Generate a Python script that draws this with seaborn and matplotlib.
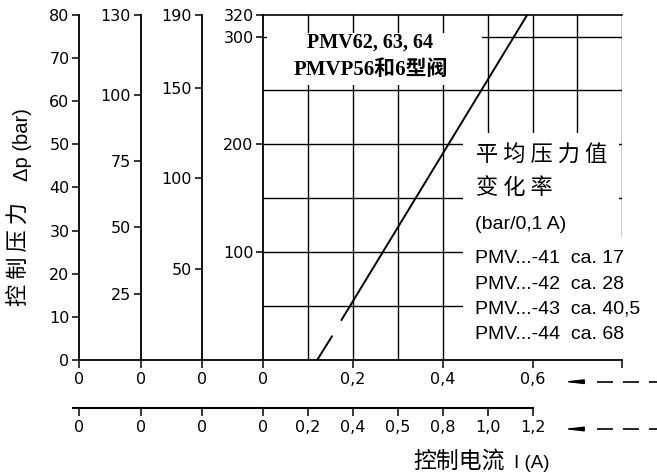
import matplotlib
matplotlib.use("Agg")
import matplotlib.pyplot as plt
import seaborn as sns
from matplotlib.patches import Rectangle
from matplotlib.lines import Line2D

# ---------------- data ----------------
scale_tops = [80, 130, 190, 320]
scale1_ticks = [0, 10, 20, 30, 40, 50, 60, 70, 80]
scale2_ticks = [25, 50, 75, 100, 130]
scale3_ticks = [50, 100, 150, 190]
scale4_ticks = [100, 200, 300, 320]
grid_dp = [50, 100, 150, 200, 250, 300]
grid_current = [0.1, 0.2, 0.3, 0.4, 0.5, 0.6, 0.7, 0.8]
top_current_ticks = [0, 0.2, 0.4, 0.6, 0.8]
top_current_labels = ["0", "0,2", "0,4", "0,6", ""]
bottom_current_ticks = [0, 0.1, 0.2, 0.3, 0.4, 0.5, 0.6]
bottom_current_labels = ["0", "0,2", "0,4", "0,5", "0,8", "1,0", "1,2"]
dash_current = [0.12, 0.153]
dash_dp = [0, 22]
solid_current = [0.174, 0.588]
solid_dp = [37, 320]
rate_models = ["PMV...-41", "PMV...-42", "PMV...-43", "PMV...-44"]
rate_values = ["ca. 17", "ca. 28", "ca. 40,5", "ca. 68"]

# ---------------- style ----------------
sns.set_theme(style="white")
plt.rcParams["font.family"] = ["DejaVu Sans", "Noto Sans CJK SC"]
plt.rcParams["text.color"] = "black"
plt.rcParams["axes.edgecolor"] = "black"
plt.rcParams["axes.linewidth"] = 1.2
plt.rcParams["lines.scale_dashes"] = False
plt.rcParams["xtick.color"] = "black"
plt.rcParams["ytick.color"] = "black"
plt.rcParams["xtick.bottom"] = True
plt.rcParams["ytick.left"] = True

W, H = 657, 472
fig = plt.figure(figsize=(W / 100, H / 100), dpi=100)


def fx(px):
    return px / W


def fy(py):
    return 1 - py / H


TOP, BOT = 15, 360
lefts = [79.3, 140.7, 201.7, 263.3]
rights = [140.7, 201.7, 263.3, 622.3]
ytick_sets = [scale1_ticks, scale2_ticks, scale3_ticks, scale4_ticks]

axes = []
for l, r in zip(lefts, rights):
    a = fig.add_axes([fx(l), fy(BOT), (r - l) / W, (BOT - TOP) / H])
    a.patch.set_visible(False)
    axes.append(a)

TICKFONT = dict(family="DejaVu Sans", size=11.5)

for i, a in enumerate(axes):
    a.set_ylim(0, scale_tops[i])
    a.set_yticks(ytick_sets[i])
    a.set_yticklabels([str(t) for t in ytick_sets[i]], fontdict=TICKFONT)
    for s in ["top", "right"]:
        a.spines[s].set_visible(False)
    a.spines["left"].set_linewidth(1.3)
    a.spines["bottom"].set_linewidth(1.3)
    a.tick_params(axis="y", left=True, right=False, direction="out",
                  length=5, width=1.1, pad=2)
    a.tick_params(axis="x", bottom=True, top=False, direction="out",
                  length=5.5, width=1.1, pad=3.5)
    if i < 3:
        a.set_xlim(0, 1)
        a.set_xticks([0])
        a.set_xticklabels(["0"], fontdict=TICKFONT)

ax4 = axes[3]
ax4.set_xlim(0, 0.8)
ax4.spines["top"].set_visible(True)
ax4.spines["top"].set_linewidth(1.2)
ax4.set_xticks(top_current_ticks)
ax4.set_xticklabels(top_current_labels, fontdict=TICKFONT)

# grid of the right panel
ax4.vlines(grid_current, 0, 320, colors="black", lw=1.0, zorder=1)
ax4.hlines(grid_dp, 0, 0.8, colors="black", lw=1.0, zorder=1)

# white areas behind the texts
ax4.add_patch(Rectangle((0.008, 255), 0.479, 48.5, facecolor="white",
                        edgecolor="none", zorder=1.5))
ax4.add_patch(Rectangle((0.445, 0), 0.3475, 210.6, facecolor="white",
                        edgecolor="none", zorder=1.5))
ax4.add_patch(Rectangle((0.445, 0), 0.46, 114, facecolor="white",
                        edgecolor="none", zorder=1.5, clip_on=False))

# characteristic line
sns.lineplot(x=dash_current, y=dash_dp, ax=ax4, color="black", lw=1.4,
             zorder=4, sort=False)
sns.lineplot(x=solid_current, y=solid_dp, ax=ax4, color="black", lw=1.4,
             zorder=4, sort=False)
ax4.set_xlabel("")
ax4.set_ylabel("")

# second current scale (lower row)
for i, a in enumerate(axes):
    b = a.twiny()
    b.set_xlim(a.get_xlim())
    b.xaxis.set_ticks_position("bottom")
    b.xaxis.set_label_position("bottom")
    for s in ["top", "right", "left"]:
        b.spines[s].set_visible(False)
    b.spines["bottom"].set_visible(True)
    b.spines["bottom"].set_position(("outward", 47.7 * 0.72))
    b.spines["bottom"].set_linewidth(1.5)
    b.tick_params(axis="x", bottom=True, top=False, direction="out",
                  length=5.5, width=1.1, pad=3.5)
    if i < 3:
        b.set_xticks([0])
        b.set_xticklabels(["0"], fontdict=TICKFONT)
        if i == 0:
            b.spines["bottom"].set_bounds(-0.107, 1)
    else:
        b.set_xticks(bottom_current_ticks)
        b.set_xticklabels(bottom_current_labels, fontdict=TICKFONT)
        b.spines["bottom"].set_bounds(0, 0.6)

# arrows pointing to the two scales
for py in [381.7, 429.0]:
    fig.add_artist(Line2D([fx(597), fx(657)], [fy(py), fy(py)],
                          transform=fig.transFigure, color="black", lw=1.2,
                          linestyle=(0, (11.5, 7.2))))
    ax4.annotate("", xy=(fx(563), fy(py)), xycoords="figure fraction",
                 xytext=(fx(584), fy(py)), textcoords="figure fraction",
                 arrowprops=dict(arrowstyle="-|>,head_length=1.1,head_width=0.13",
                                 color="black", lw=1.0, shrinkA=0, shrinkB=0,
                                 mutation_scale=10))

# title inside the grid
SERIF = ["Liberation Serif", "Noto Sans CJK SC"]
fig.text(fx(370), fy(43), "PMV62, 63, 64", ha="center", va="center",
         family=SERIF, weight="bold", size=14.5)
fig.text(fx(371), fy(70), "PMVP56和6型阀", ha="center", va="center",
         family=SERIF, weight="bold", size=15)

# right-hand annotation block
CJK = ["Noto Sans CJK SC", "DejaVu Sans"]
SANS = ["Liberation Sans", "DejaVu Sans"]
fig.text(fx(476), fy(155), "平 均 压 力 值", ha="left", va="center",
         family=CJK, size=16)
fig.text(fx(476), fy(187), "变 化 率", ha="left", va="center",
         family=CJK, size=16)
fig.text(fx(475), fy(225), "(bar/0,1 A)", ha="left", va="center",
         family=SANS, size=14)
row_y = [258.3, 284.5, 309.5, 334.5]
for m, v, py in zip(rate_models, rate_values, row_y):
    fig.text(fx(475), fy(py), f"{m}  {v}", ha="left", va="center",
             family=SANS, size=14)

# axis titles
fig.text(fx(19), fy(254), "控 制 压 力", rotation=90, ha="center",
         va="center", family=CJK, size=16)
fig.text(fx(22), fy(145), "Δp (bar)", rotation=90, ha="center",
         va="center", family=SANS, size=14.5)
fig.text(fx(413), fy(461.5), "控制电流", ha="left", va="center",
         family=CJK, size=16.5)
fig.text(fx(514), fy(463), "I (A)", ha="left", va="center",
         family=SANS, size=13.5)

fig.savefig("out.png", dpi=100)
